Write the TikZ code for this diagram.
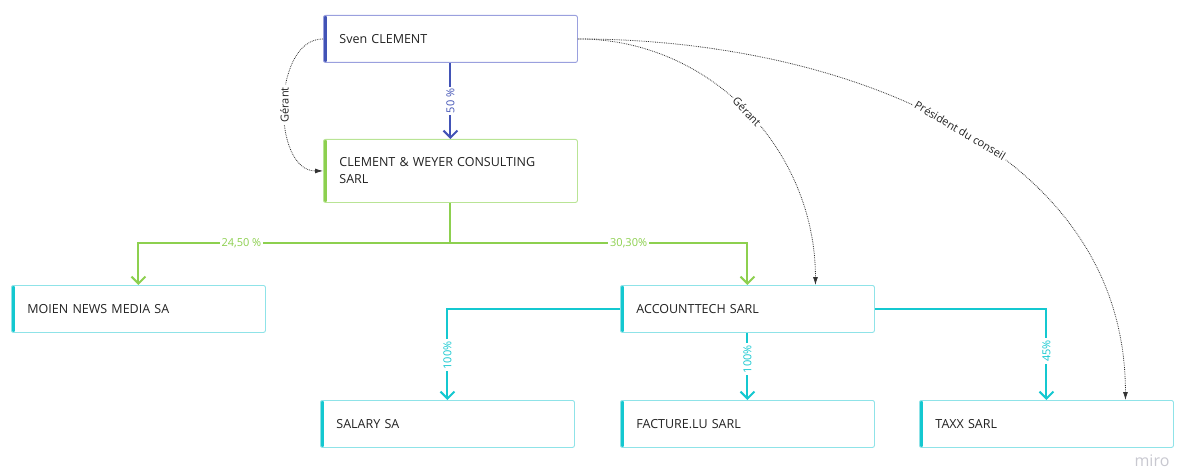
\documentclass[tikz,border=0pt]{standalone}
\usepackage{fontspec}
\setmainfont{Open Sans}
\usetikzlibrary{calc,arrows.meta,positioning}

\definecolor{indigo}{HTML}{4253B6}
\definecolor{indigolight}{HTML}{9AA0DE}
\definecolor{leaf}{HTML}{8DD04F}
\definecolor{leaflight}{HTML}{B9E495}
\definecolor{lagoon}{HTML}{14C8D0}
\definecolor{lagoonlight}{HTML}{8FE3E8}
\definecolor{inkdark}{HTML}{222222}
\definecolor{roleline}{HTML}{333333}
\definecolor{mirogray}{HTML}{C8C8D0}

\tikzset{
  entity/.style={rectangle, rounded corners=2pt, draw=#1light, line width=0.9pt, fill=white,
    anchor=north west, text width=222pt, inner xsep=16pt, align=left, minimum height=47pt,
    font=\fontsize{12.5}{17}\selectfont, text=inkdark,
    path picture={\fill[#1] (path picture bounding box.south west) rectangle
      ($(path picture bounding box.north west)+(3.5pt,0)$);}},
  holding/.style={draw=#1, line width=2pt, -{Straight Barb[length=7pt,width=14pt]}},
  pct/.style={fill=white, text=#1, font=\fontsize{11}{13}\selectfont, inner sep=2pt},
  mandate/.style={draw=roleline, densely dotted, line width=0.8pt, -{Latex[length=8pt,width=5pt]}},
  rolelab/.style={fill=white, text=inkdark, font=\fontsize{11}{13}\selectfont, inner sep=2pt}
}

\begin{document}
\begin{tikzpicture}[x=1pt,y=-1pt]
  \useasboundingbox (0,0) rectangle (1177,473);

  % entities
  \node[entity=indigo] (sven) at (323,15) {Sven CLEMENT};
  \node[entity=leaf, minimum height=63pt] (cw) at (323,139) {CLEMENT \& WEYER CONSULTING\\SARL};
  \node[entity=lagoon] (moien) at (11,285) {MOIEN NEWS MEDIA SA};
  \node[entity=lagoon] (acc) at (620,285) {ACCOUNTTECH SARL};
  \node[entity=lagoon] (salary) at (320,400) {SALARY SA};
  \node[entity=lagoon] (facture) at (620,400) {FACTURE.LU SARL};
  \node[entity=lagoon] (taxx) at (919,400) {TAXX SARL};

  \coordinate (split) at ($(cw.south)+(0,40)$);
  \coordinate (accin) at ($(acc.north)+(68,0)$);
  \coordinate (taxxin) at ($(taxx.north)+(79,0)$);

  % shareholdings
  \draw[holding=indigo] (sven) -- (cw) node[pct=indigo, midway, rotate=90] {50 \%};
  \draw[holding=leaf] (cw.south) -- (split) -| (moien.north) node[pct=leaf, pos=0.335] {24,50 \%};
  \draw[holding=leaf] (split) -| (acc.north) node[pct=leaf, pos=0.3] {30,30\%};
  \draw[holding=lagoon] (acc.west) -| (salary.north) node[pct=lagoon, pos=0.755, rotate=90] {100\%};
  \draw[holding=lagoon] (acc) -- (facture) node[pct=lagoon, pos=0.39, rotate=90] {100\%};
  \draw[holding=lagoon] (acc.east) -| (taxx.north) node[pct=lagoon, pos=0.73, rotate=90] {45\%};

  % mandates
  \draw[mandate] (sven.west) to[out=180,in=180] node[rolelab, rotate=90] {Gérant} (cw.west);
  \draw[mandate] (sven.east) to[out=0,in=90] node[rolelab, sloped] {Gérant} (accin);
  \draw[mandate] (sven.east) to[out=0,in=90] node[rolelab, sloped, pos=0.52] {Président du conseil} (taxxin);

  \node[text=mirogray, font=\fontsize{16}{16}\selectfont] (logo) at (1152,461) {miro};
\end{tikzpicture}
\end{document}
